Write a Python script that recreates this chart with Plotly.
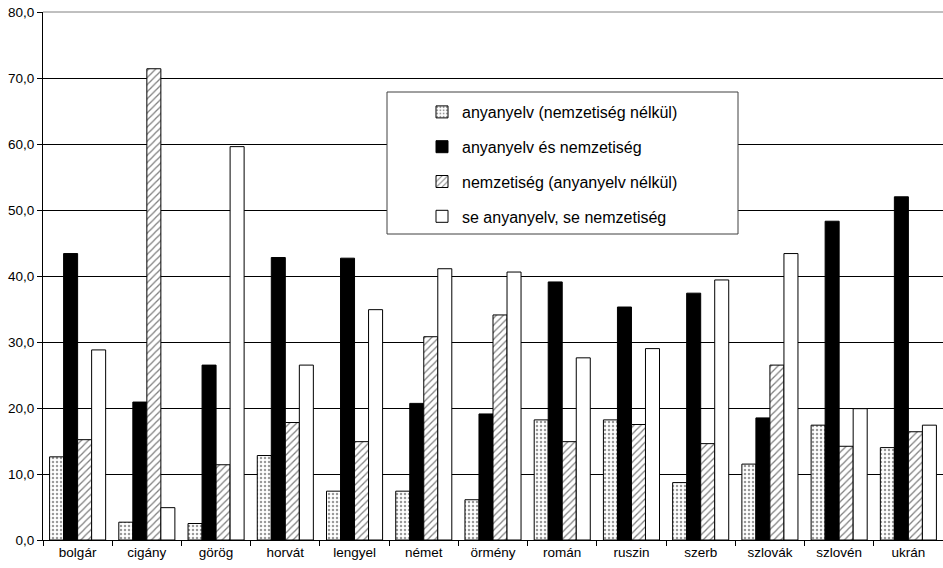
import plotly.graph_objects as go

categories = ["bolgár", "cigány", "görög", "horvát", "lengyel", "német", "örmény",
              "román", "ruszin", "szerb", "szlovák", "szlovén", "ukrán"]

anyanyelv_only = [12.6, 2.7, 2.5, 12.8, 7.4, 7.4, 6.1, 18.2, 18.2, 8.7, 11.5, 17.4, 14.0]
anyanyelv_es_nemz = [43.4, 20.9, 26.5, 42.8, 42.7, 20.7, 19.1, 39.1, 35.3, 37.4, 18.5, 48.3, 52.0]
nemzetiseg_only = [15.2, 71.4, 11.4, 17.8, 14.9, 30.8, 34.1, 14.9, 17.5, 14.6, 26.5, 14.2, 16.4]
egyik_sem = [28.8, 4.9, 59.6, 26.5, 34.9, 41.1, 40.6, 27.6, 29.0, 39.4, 43.4, 19.9, 17.4]

series_names = ["anyanyelv (nemzetiség nélkül)", "anyanyelv és nemzetiség",
                "nemzetiség (anyanyelv nélkül)", "se anyanyelv, se nemzetiség"]

FONT = "Liberation Sans, Arial, sans-serif"
OUTLINE = dict(color="black", width=1)

# marker style per series: dotted, solid black, hatched, white
styles = [
    dict(color="white", line=OUTLINE,
         pattern=dict(shape=".", fgcolor="#333333", bgcolor="white", size=4, solidity=0.3)),
    dict(color="black", line=OUTLINE),
    dict(color="white", line=OUTLINE,
         pattern=dict(shape="/", fgcolor="black", bgcolor="white", size=5, solidity=0.25)),
    dict(color="white", line=OUTLINE),
]

fig = go.Figure()
for i, (name, vals) in enumerate(zip(series_names,
                                     [anyanyelv_only, anyanyelv_es_nemz, nemzetiseg_only, egyik_sem])):
    fig.add_trace(go.Bar(x=categories, y=vals, name=name, marker=styles[i],
                         legendgroup=str(i)))

# plot area sits at page x 43..943, y 12..540
def px_x(x):
    return (x - 43) / 900

def px_y(y):
    return (540 - y) / 528

# legend frame (plotly legends have no left padding, so draw the box separately)
fig.add_shape(type="rect", xref="paper", yref="paper",
              x0=px_x(387), x1=px_x(738), y0=px_y(234), y1=px_y(92),
              line=dict(color="#404040", width=1), fillcolor="white", layer="above")
# grey top edge of the plot area
fig.add_shape(type="line", xref="paper", yref="paper", x0=0, x1=1, y0=1, y1=1,
              line=dict(color="#808080", width=1))

fig.update_layout(
    width=943, height=568,
    margin=dict(l=43, r=0, t=12, b=28),
    paper_bgcolor="white", plot_bgcolor="white",
    font=dict(family=FONT, size=13.5, color="black"),
    separators=",.",
    barmode="group", bargap=0.19, bargroupgap=0,
    legend=dict(x=px_x(422), y=px_y(95), xanchor="left", yanchor="top",
                bgcolor="rgba(0,0,0,0)", borderwidth=0, tracegroupgap=11,
                traceorder="grouped", font=dict(size=16, family=FONT)),
)
fig.update_yaxes(range=[0, 80], dtick=10, tickformat=".1f", showgrid=True,
                 gridcolor="black", gridwidth=1, showline=True, linecolor="black",
                 linewidth=1, ticks="outside", ticklen=5, tickcolor="black",
                 zeroline=False, automargin=False)
fig.update_xaxes(showline=True, linecolor="black", linewidth=1, ticks="outside",
                 tickson="boundaries", ticklen=5, tickcolor="black", automargin=False)

# drop the default 8px body margin so the figure fills the window
fig.write_html("out.html", config={"displayModeBar": False},
               post_script="document.body.style.margin='0';")
